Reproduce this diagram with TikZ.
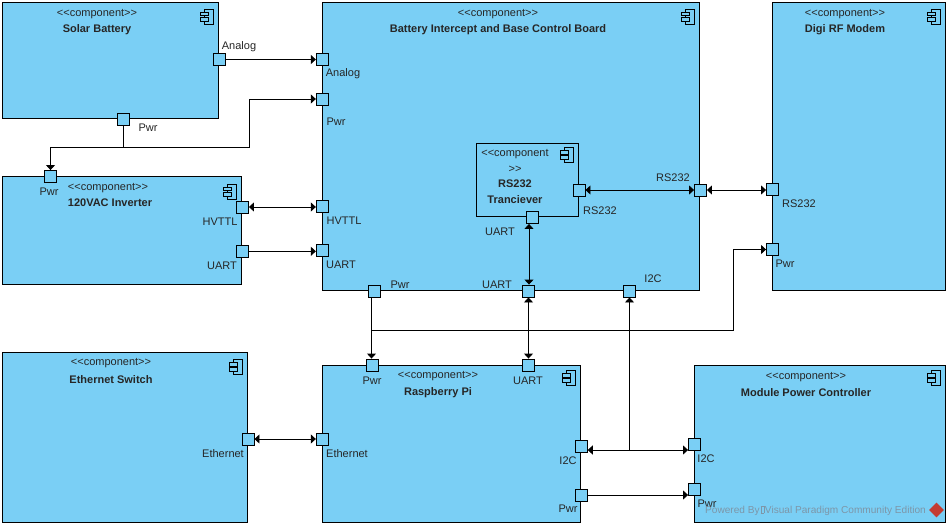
\documentclass[tikz,border=0pt]{standalone}
\usepackage{fontspec}
\setmainfont{Liberation Sans}
\usetikzlibrary{arrows.meta}
\definecolor{compblue}{RGB}{122,207,245}
\definecolor{vpred}{RGB}{196,60,50}
\definecolor{vpgrey}{RGB}{125,150,168}
\newcommand{\stereo}{<{}<component>{}>}
\tikzset{
  compbox/.style={draw=black,fill=compblue,line width=0.9pt,inner sep=0pt},
  port/.style={draw=black,fill=compblue,line width=0.9pt,inner sep=0pt,minimum size=12pt},
  conn/.style={draw=black,line width=0.9pt},
  lbl/.style={inner sep=0pt,yshift=-1pt,font=\fontsize{11}{12}\selectfont,text=black!85},
  ttl/.style={inner sep=0pt,yshift=-1.2pt,font=\fontsize{11}{12}\selectfont\bfseries,text=black!85},
  >={Triangle[length=5pt,width=9pt]},
  compicon/.pic={
    \draw[line width=0.8pt] (4,-7.5) rectangle (13,7.5);
    \draw[line width=0.8pt,fill=compblue] (0,-4.5) rectangle (8,-0.8);
    \draw[line width=0.8pt,fill=compblue] (0,0.8) rectangle (8,4.5);
  }
}
\begin{document}
\begin{tikzpicture}[x=1pt,y=-1pt]
\useasboundingbox (0,0) rectangle (949,527);

% boxes
\node[compbox,minimum width=216pt,minimum height=116pt] (solar) at (110,60) {};
\node[compbox,minimum width=239pt,minimum height=108pt] (inverter) at (121.5,230) {};
\node[compbox,minimum width=377pt,minimum height=288pt] (board) at (510.5,146) {};
\node[compbox,minimum width=173pt,minimum height=288pt] (digi) at (858.5,146) {};
\node[compbox,minimum width=245pt,minimum height=170pt] (switch) at (124.5,437) {};
\node[compbox,minimum width=258pt,minimum height=157pt] (pi) at (451,443.5) {};
\node[compbox,minimum width=251pt,minimum height=157pt] (module) at (820,443.5) {};
\node[compbox,minimum width=102pt,minimum height=73pt] (tranciever) at (527.8,179.5) {};

% icons
\pic at (200,16.5) {compicon};
\pic at (223,191.5) {compicon};
\pic at (681,16.5) {compicon};
\pic at (927,16.5) {compicon};
\pic at (229,367) {compicon};
\pic at (562,378) {compicon};
\pic at (927,378) {compicon};
\pic at (560,155) {compicon};

% titles
\node[lbl] (solarst) at (97,13) {\stereo};
\node[ttl] (solarti) at (97,28) {Solar Battery};
\node[lbl] (inverterst) at (108,187) {\stereo};
\node[ttl] (inverterti) at (110,202) {120VAC Inverter};
\node[lbl] (boardst) at (498,13) {\stereo};
\node[ttl] (boardti) at (498,28) {Battery Intercept and Base Control Board};
\node[lbl] (digist) at (845,13) {\stereo};
\node[ttl] (digiti) at (845,28) {Digi RF Modem};
\node[lbl] (switchst) at (111,362) {\stereo};
\node[ttl] (switchti) at (111,378) {Ethernet Switch};
\node[lbl] (pist) at (438,375) {\stereo};
\node[ttl] (piti) at (438,391) {Raspberry Pi};
\node[lbl] (modulest) at (806,376) {\stereo};
\node[ttl] (moduleti) at (806,391) {Module Power Controller};
\node[lbl] (trancieverst) at (515,153) {<{}<component};
\node[lbl] (trancieverstb) at (515,168) {>{}>};
\node[ttl] (trancieverti) at (515,183) {RS232};
\node[ttl] (trancievertib) at (515,198) {Tranciever};

% ports
\node[port] (solaranalog) at (219,59.5) {};
\node[port] (solarpwr) at (123.5,119.5) {};
\node[port] (invpwr) at (50.5,176.5) {};
\node[port] (invhvttl) at (242.5,207) {};
\node[port] (invuart) at (242.5,251.3) {};
\node[port] (boardanalog) at (322.3,59.5) {};
\node[port] (boardpwr) at (322.3,99) {};
\node[port] (boardhvttl) at (322.3,206) {};
\node[port] (boarduart) at (322.3,250) {};
\node[port] (boardpwrb) at (374.5,291.5) {};
\node[port] (boarduartb) at (528.5,291) {};
\node[port] (boardi2c) at (629.5,291) {};
\node[port] (boardrs) at (700.5,190) {};
\node[port] (tranrs) at (579,190) {};
\node[port] (tranuart) at (532.5,217.5) {};
\node[port] (digirs) at (772.5,189.5) {};
\node[port] (digipwr) at (772.5,249.5) {};
\node[port] (pipwr) at (372.3,365) {};
\node[port] (piuart) at (528.5,365) {};
\node[port] (pieth) at (322.3,439) {};
\node[port] (switcheth) at (248,439) {};
\node[port] (pii2c) at (581.3,446) {};
\node[port] (pipwrb) at (581.3,495) {};
\node[port] (modulei2c) at (694.5,444) {};
\node[port] (modulepwr) at (694.5,489) {};

% port labels
\node[lbl] (l1) at (239,46) {Analog};
\node[lbl] (l2) at (343,73) {Analog};
\node[lbl] (l3) at (336,121) {Pwr};
\node[lbl] (l4) at (148,127) {Pwr};
\node[lbl] (l5) at (49,191) {Pwr};
\node[lbl] (l6) at (220,221) {HVTTL};
\node[lbl] (l7) at (222,265) {UART};
\node[lbl] (l8) at (344,220) {HVTTL};
\node[lbl] (l9) at (341,264) {UART};
\node[lbl] (l10) at (400,284) {Pwr};
\node[lbl] (l11) at (497,284) {UART};
\node[lbl] (l12) at (500,231) {UART};
\node[lbl] (l13) at (600,210) {RS232};
\node[lbl] (l14) at (673,177) {RS232};
\node[lbl] (l15) at (653,278) {I2C};
\node[lbl] (l16) at (799,203) {RS232};
\node[lbl] (l17) at (785,263) {Pwr};
\node[lbl] (l18) at (372,380) {Pwr};
\node[lbl] (l19) at (528,380) {UART};
\node[lbl] (l20) at (223,453) {Ethernet};
\node[lbl] (l21) at (347,453) {Ethernet};
\node[lbl] (l22) at (568,460) {I2C};
\node[lbl] (l23) at (568,508) {Pwr};
\node[lbl] (l24) at (706,458) {I2C};
\node[lbl] (l25) at (707,503) {Pwr};

% connectors
\coordinate (solarjoin) at (123.5,147);
\coordinate (solarbend) at (249.5,147);
\coordinate (pwrjoin) at (371.5,330);
\coordinate (pwrbend) at (733,330);
\coordinate (i2cjoin) at (629.5,450);

\draw[conn,->] (solaranalog) -- (boardanalog);
\draw[conn] (solarpwr) -- (solarjoin);
\draw[conn,->] (solarjoin) -| (invpwr);
\draw[conn,->] (solarjoin) -- (solarbend) |- (boardpwr);
\draw[conn,<->] (invhvttl.east) -- (invhvttl.east -| boardhvttl.west);
\draw[conn,->] (invuart.east) -- (invuart.east -| boarduart.west);
\draw[conn,<->] (tranrs) -- (boardrs);
\draw[conn,<->] (boardrs) -- (digirs.west |- boardrs);
\draw[conn,<->] ([xshift=-3.5pt]tranuart.south) -- ([xshift=-3.5pt]tranuart.south |- boarduartb.north);
\draw[conn,<->] (boarduartb) -- (piuart);
\draw[conn] (boardpwrb.south -| pwrjoin) -- (pwrjoin);
\draw[conn,->] (pwrjoin) -- (pwrjoin |- pipwr.north);
\draw[conn,->] (pwrjoin) -- (pwrbend) |- (digipwr);
\draw[conn,<->] (switcheth) -- (pieth);
\draw[conn,<-] (boardi2c) -- (i2cjoin);
\draw[conn,<->] ([yshift=-4pt]pii2c.east) -- (modulei2c.west |- i2cjoin);
\draw[conn,->] (pipwrb) -- (modulepwr.west |- pipwrb);

% watermark
\node[inner sep=0pt,anchor=west,font=\fontsize{10.1}{12}\selectfont,text=vpgrey] (vptext) at (705,510.5) {Powered By{\kern1pt\setlength{\fboxsep}{0pt}\setlength{\fboxrule}{0.4pt}\fbox{\rule{0pt}{7pt}\kern3pt}\kern0.5pt}Visual Paradigm Community Edition};
\node[fill=vpred,rotate=45,minimum size=10.5pt,inner sep=0pt] (vplogo) at (936.5,510) {};
\end{tikzpicture}
\end{document}
